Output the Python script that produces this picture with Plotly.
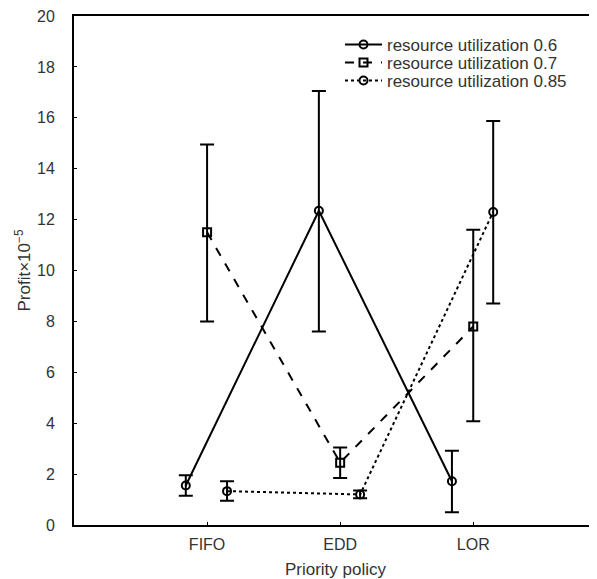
import plotly.graph_objects as go
import numpy as np

categories = ["FIFO", "EDD", "LOR"]
cat_pos = [1, 2, 3]
series_names = ["resource utilization 0.6", "resource utilization 0.7", "resource utilization 0.85"]

mean_06 = [1.55, 12.35, 1.72]
upper_06 = [1.95, 17.05, 2.92]
lower_06 = [1.15, 7.6, 0.5]

mean_07 = [11.5, 2.45, 7.8]
upper_07 = [14.95, 3.05, 11.6]
lower_07 = [8.0, 1.85, 4.08]

mean_085 = [1.33, 1.2, 12.3]
upper_085 = [1.72, 1.36, 15.87]
lower_085 = [0.95, 1.05, 8.7]

offsets = [-0.16, 0.0, 0.15]
dashes = ["solid", "dash", "dot"]
symbols = ["circle-open", "square-open", "circle-open"]
legend_ids = ["legend", "legend2", "legend3"]
legend_y = [0.943, 0.9077, 0.8723]

fig = go.Figure()
for name, m, u, l, off, dsh, sym, lg in zip(
    series_names,
    [mean_06, mean_07, mean_085],
    [upper_06, upper_07, upper_085],
    [lower_06, lower_07, lower_085],
    offsets, dashes, symbols, legend_ids,
):
    m = np.array(m); u = np.array(u); l = np.array(l)
    fig.add_trace(go.Scatter(
        x=[p + off for p in cat_pos], y=m, name=name, legend=lg,
        mode="lines+markers",
        line=dict(color="black", width=2, dash=dsh),
        marker=dict(symbol=sym, size=8, color="black", line=dict(width=2, color="black")),
        error_y=dict(type="data", symmetric=False, array=u - m, arrayminus=m - l,
                     color="black", thickness=2, width=7),
    ))

legend_common = dict(x=0.5086, xanchor="left", yanchor="middle",
                     bgcolor="rgba(0,0,0,0)", font=dict(size=17), itemwidth=37)

x_range = [0, 3.93]

fig.update_layout(
    width=589, height=571,
    margin=dict(l=66, r=0, t=8, b=54, autoexpand=False),
    paper_bgcolor="white", plot_bgcolor="white",
    font=dict(family="Liberation Sans, Arial, sans-serif", size=16, color="#333"),
    showlegend=True,
    legend=dict(y=legend_y[0], **legend_common),
    legend2=dict(y=legend_y[1], **legend_common),
    legend3=dict(y=legend_y[2], **legend_common),
    xaxis=dict(range=x_range, tickmode="array", tickvals=cat_pos, ticktext=categories,
               showgrid=False, zeroline=False, showline=True, linecolor="black", linewidth=2,
               mirror=True, ticks="inside", ticklen=3, tickcolor="black", automargin=False,
               tickfont=dict(size=16), ticklabelstandoff=4,
               title=dict(text="Priority policy", standoff=12, font=dict(size=17))),
    xaxis2=dict(range=x_range, overlaying="x", side="top", anchor="y",
                showgrid=False, zeroline=False, showline=True, linecolor="black", linewidth=2,
                showticklabels=False, ticks="", automargin=False),
    yaxis=dict(range=[0, 20], dtick=2, showgrid=False, zeroline=False, showline=True,
               linecolor="black", linewidth=2, ticks="inside", ticklen=3, tickcolor="black",
               ticklabelstandoff=14, automargin=False, tickfont=dict(size=16),
               ticklabeloverflow="allow",
               title=dict(text="Profit×10<sup>−5</sup>", standoff=2, font=dict(size=17))),
)

fig.write_html("out.html")
